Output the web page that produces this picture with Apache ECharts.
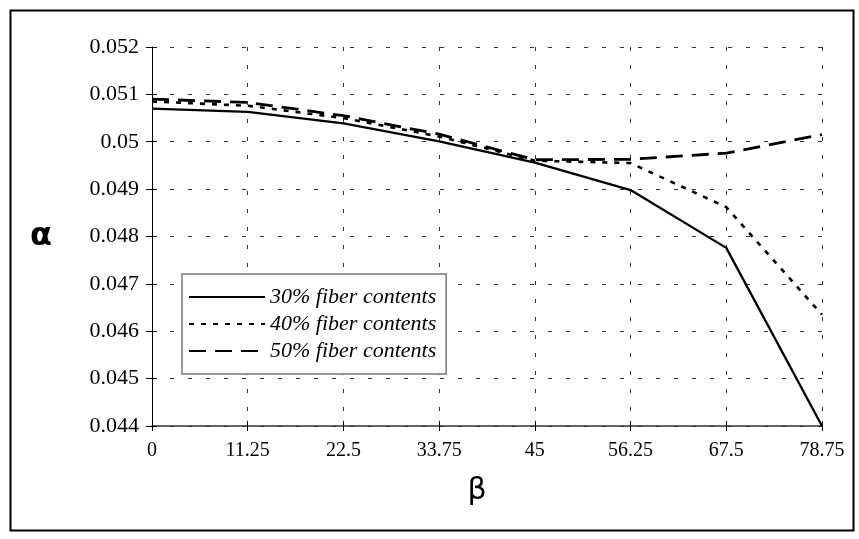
<!DOCTYPE html>
<html>
<head>
<meta charset="utf-8">
<script src="https://cdn.jsdelivr.net/npm/echarts@6/dist/echarts.min.js"></script>
<style>
  html, body { margin: 0; padding: 0; background: #fff; }
  #chart { width: 859px; height: 539px; }
</style>
</head>
<body>
<div id="chart"></div>
<script>
// Fiber-orientation angle β (degrees)
const betaValues = [0, 11.25, 22.5, 33.75, 45, 56.25, 67.5, 78.75];

// α for each fiber content
const fiber30 = [0.0507, 0.05063, 0.05039, 0.05001, 0.04956, 0.04898, 0.04776, 0.0440];
const fiber40 = [0.05085, 0.05076, 0.0505, 0.05011, 0.0496, 0.04955, 0.04862, 0.04635];
const fiber50 = [0.0509, 0.05083, 0.05055, 0.05016, 0.04962, 0.04963, 0.04976, 0.05015];

const seriesNames = ['30% fiber contents', '40% fiber contents', '50% fiber contents'];

const pairs = arr => betaValues.map((b, i) => [b, arr[i]]);

const serif = '"Liberation Serif", "DejaVu Serif", serif';
const gridDash = { color: '#333', type: [4, 14], width: 1 };

const xRange = { type: 'value', min: 0, max: 78.75, interval: 11.25 };
const yRange = { type: 'value', min: 0.044, max: 0.052, interval: 0.001 };

const chart = echarts.init(document.getElementById('chart'), null, { renderer: 'canvas' });

chart.setOption({
  backgroundColor: '#fff',
  animation: false,
  grid: { left: 152, right: 37, top: 47, bottom: 113, containLabel: false },
  xAxis: [
    Object.assign({}, xRange, {
      name: 'β',
      nameLocation: 'middle',
      nameGap: 50,
      nameTextStyle: { fontFamily: '"DejaVu Sans", sans-serif', fontSize: 30, color: '#000', padding: [0, 20, 0, 0] },
      axisLine: { show: true, lineStyle: { color: '#333', width: 1.5 } },
      axisTick: { show: true, length: 5, lineStyle: { color: '#000' } },
      axisLabel: { fontFamily: serif, fontSize: 20, color: '#000', margin: 15 },
      splitLine: { show: true, lineStyle: gridDash }
    }),
    // inner half of the crossing ticks
    Object.assign({}, xRange, {
      position: 'bottom',
      axisLine: { show: false },
      axisTick: { show: true, inside: true, length: 5, lineStyle: { color: '#000' } },
      axisLabel: { show: false },
      splitLine: { show: false }
    })
  ],
  yAxis: [
    Object.assign({}, yRange, {
      name: 'α',
      nameLocation: 'middle',
      nameRotate: 0,
      nameGap: 100,
      nameTextStyle: { fontFamily: '"DejaVu Sans", sans-serif', fontSize: 32, fontWeight: 'bold', color: '#000' },
      axisLine: { show: true, lineStyle: { color: '#000', width: 1 } },
      axisTick: { show: true, length: 6, lineStyle: { color: '#000' } },
      axisLabel: { fontFamily: serif, fontSize: 22, color: '#000', margin: 13 },
      splitLine: { show: true, lineStyle: gridDash }
    }),
    Object.assign({}, yRange, {
      position: 'left',
      axisLine: { show: false },
      axisTick: { show: true, inside: true, length: 5, lineStyle: { color: '#000' } },
      axisLabel: { show: false },
      splitLine: { show: false }
    })
  ],
  legend: {
    left: 182, top: 274,
    orient: 'vertical',
    padding: [12, 10, 12, 6],
    itemGap: 5,
    itemWidth: 76, itemHeight: 14,
    backgroundColor: '#fff',
    borderColor: '#777', borderWidth: 1.5,
    itemStyle: { color: 'transparent', borderWidth: 0 },
    textStyle: { fontFamily: serif, fontSize: 22, fontStyle: 'italic', color: '#000', lineHeight: 22 },
    data: seriesNames
  },
  series: [
    {
      name: seriesNames[0], type: 'line', data: pairs(fiber30), symbol: 'none',
      lineStyle: { color: '#000', width: 2.3, type: 'solid' }, itemStyle: { color: '#000' }, z: 3
    },
    {
      name: seriesNames[1], type: 'line', data: pairs(fiber40), symbol: 'none',
      lineStyle: { color: '#000', width: 2.6, type: [5, 7] }, itemStyle: { color: '#000' }, z: 2
    },
    {
      name: seriesNames[2], type: 'line', data: pairs(fiber50), symbol: 'none',
      lineStyle: { color: '#000', width: 2.8, type: [17, 9] }, itemStyle: { color: '#000' }, z: 2
    }
  ],
  graphic: [
    {
      type: 'rect', left: 8, top: 8, silent: true, z: -1,
      shape: { width: 843, height: 520 },
      style: { fill: 'none', stroke: '#000', lineWidth: 2 }
    }
  ]
});
</script>
</body>
</html>
